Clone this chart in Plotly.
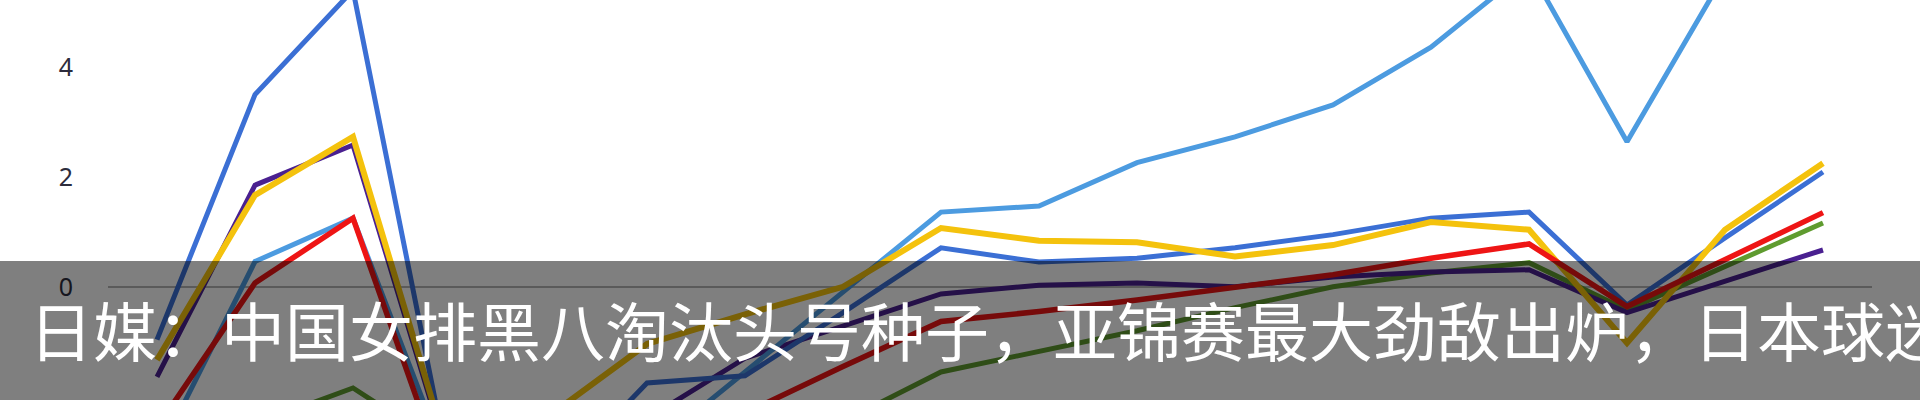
import plotly.graph_objects as go

# x positions (18 rounds, no visible labels in the crop)
rounds = list(range(1, 19))

dark_blue = [-0.96, 3.5, 5.4, -3.5, -3.6, -1.75, -1.62, -0.47, 0.71, 0.45, 0.52, 0.71, 0.95, 1.25, 1.36, -0.33, 0.89, 2.09]
light_blue = [-3.1, 0.46, 1.25, -3.4, -3.3, -3.0, -1.55, -0.09, 1.36, 1.47, 2.26, 2.73, 3.31, 4.36, 5.8, 2.64, 5.7, 6.3]
yellow = [-1.33, 1.67, 2.73, -3.2, -2.35, -1.04, -0.5, 0.0, 1.07, 0.84, 0.81, 0.55, 0.76, 1.18, 1.04, -1.02, 1.04, 2.25]
purple = [-1.64, 1.85, 2.58, -3.3, -3.4, -2.4, -1.3, -0.72, -0.13, 0.03, 0.07, 0.0, 0.18, 0.27, 0.31, -0.47, 0.1, 0.67]
red = [-2.56, 0.07, 1.25, -3.8, -3.5, -3.0, -2.3, -1.45, -0.63, -0.45, -0.24, 0.0, 0.22, 0.52, 0.78, -0.36, 0.49, 1.35]
green = [-3.5, -2.5, -1.84, -3.0, -3.5, -3.3, -2.8, -2.45, -1.55, -1.17, -0.8, -0.38, 0.0, 0.25, 0.44, -0.42, 0.38, 1.16]

y_ticks = [-2, 0, 2, 4]
caption = "日媒：中国女排黑八淘汰头号种子，亚锦赛最大劲敌出炉，日本球迷"

series = [
    ("green", green, "#5f9b2f", 5),
    ("purple", purple, "#4a2090", 5),
    ("light_blue", light_blue, "#4c9be0", 5),
    ("dark_blue", dark_blue, "#3b6fd4", 5),
    ("yellow", yellow, "#f4c20d", 6),
    ("red", red, "#ee1515", 5.5),
]

fig = go.Figure()
for name, vals, color, w in series:
    fig.add_trace(go.Scatter(x=rounds, y=vals, mode="lines", name=name,
                             line=dict(color=color, width=w), showlegend=False,
                             hoverinfo="skip"))

W, H = 1920, 400
L, R = 108, 48
pw = W - L - R

fig.update_layout(
    width=W, height=H,
    margin=dict(l=L, r=R, t=0, b=0, pad=0),
    paper_bgcolor="white", plot_bgcolor="white",
    hovermode=False,
    xaxis=dict(range=[0.5, 18.5], showgrid=False, zeroline=False,
               showticklabels=False, showline=False, ticks=""),
    yaxis=dict(range=[-2.06, 5.22], tickvals=y_ticks, showgrid=False,
               zeroline=True, zerolinecolor="#b4b4b4", zerolinewidth=1.5,
               showline=False, ticks="", ticklabelstandoff=34,
               tickfont=dict(family="Noto Sans", size=25, color="#2c2c3c")),
    shapes=[dict(type="rect", xref="paper", yref="paper",
                 x0=-L / pw - 0.01, x1=(W - L) / pw + 0.01, y0=-0.02, y1=(H - 261) / H,
                 fillcolor="rgba(0,0,0,0.5)", line=dict(width=0), layer="above")],
    annotations=[dict(text=caption, xref="paper", yref="paper",
                      x=(27 - L) / pw, y=(H - 328) / H, xanchor="left", yanchor="middle",
                      showarrow=False,
                      font=dict(family="Noto Sans CJK SC", size=64, color="white"))],
)

fig.write_html("out.html", config={"displayModeBar": False, "staticPlot": True},
               post_script="document.body.style.margin='0';document.body.style.overflow='hidden';")
